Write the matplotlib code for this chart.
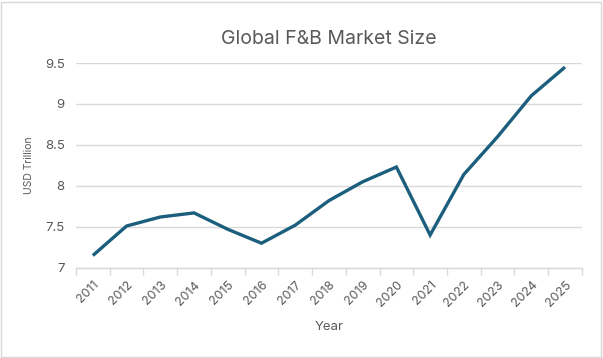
import matplotlib
matplotlib.use("Agg")
import matplotlib.pyplot as plt
from matplotlib.patches import Rectangle

years = ["2011", "2012", "2013", "2014", "2015", "2016", "2017", "2018",
         "2019", "2020", "2021", "2022", "2023", "2024", "2025"]
market_size = [7.15, 7.51, 7.62, 7.67, 7.47, 7.30, 7.52, 7.82,
               8.05, 8.23, 7.40, 8.14, 8.60, 9.10, 9.45]
y_ticks = [7, 7.5, 8, 8.5, 9, 9.5]
y_tick_labels = ["7", "7.5", "8", "8.5", "9", "9.5"]

plt.rcParams["font.family"] = ["Inter", "DejaVu Sans"]
text_gray = "#595959"
grid_gray = "#d9d9d9"

fig = plt.figure(figsize=(6.03, 3.58), dpi=100)
ax = fig.add_axes([0.126, 0.252, 0.839, 0.572])

x = list(range(len(years)))
ax.plot(x, market_size, color="#1b5e7d", lw=2.4, solid_joinstyle="miter",
        solid_capstyle="butt", zorder=3)

ax.set_xlim(-0.5, len(years) - 0.5)
ax.set_ylim(7, 9.5)
ax.set_yticks(y_ticks)
ax.set_yticklabels(y_tick_labels)
ax.yaxis.grid(True, color=grid_gray, lw=1)
ax.set_axisbelow(True)

# category labels at centers, tick marks at category boundaries
ax.set_xticks(x)
ax.set_xticklabels(years, rotation=45, ha="right", rotation_mode="anchor")
ax.set_xticks([i - 0.5 for i in range(len(years) + 1)], minor=True)
ax.tick_params(axis="x", which="major", length=0, pad=8,
               labelsize=9, labelcolor=text_gray)
ax.tick_params(axis="x", which="minor", length=5, width=1, color=grid_gray,
               direction="out")
ax.tick_params(axis="y", length=0, pad=8, labelsize=9.5, labelcolor=text_gray)

for side in ["top", "right", "left"]:
    ax.spines[side].set_visible(False)
ax.spines["bottom"].set_color(grid_gray)
ax.spines["bottom"].set_linewidth(1)

ax.set_title("Global F&B Market Size", fontsize=14, color=text_gray, pad=14)
ax.set_xlabel("Year", fontsize=9.5, color=text_gray, labelpad=8)
ax.set_ylabel("USD Trillion", fontsize=7.5, color=text_gray, labelpad=8)

fig.patches.append(Rectangle((0.002, 0.003), 0.994, 0.992,
                             transform=fig.transFigure, fill=False,
                             edgecolor="#d9d9d9", lw=1))

fig.savefig("out.png", dpi=100)
